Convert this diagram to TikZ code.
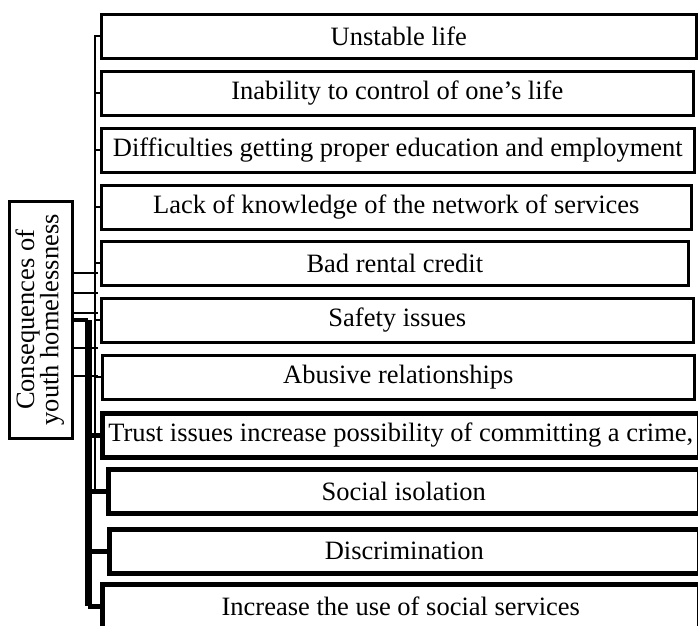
\documentclass[tikz,border=0pt]{standalone}
\usepackage{fontspec}
\setmainfont{Liberation Serif}
\usetikzlibrary{positioning}
\tikzset{
x=1pt, y=-1pt, % one unit is one pixel of the layout, counted downwards
item/.style={draw, line width=2.6pt, inner sep=0pt, anchor=north west, minimum height=44pt, font=\fontsize{26.5}{30}\selectfont}, % the boxes on the right
bolditem/.style={item, line width=4.6pt}, % the heavier boxes at the bottom
link/.style={line width=2.2pt}, % thin connectors
boldlink/.style={line width=4.6pt}, % heavy connectors
boldspine/.style={line width=7pt}, % heavy trunk
}

\begin{document}
\begin{tikzpicture}
\useasboundingbox (0,0) rectangle (698,625);
% root on the left
\node[draw, line width=2.6pt, inner sep=0pt, anchor=north west, minimum width=63pt, minimum height=237pt, font=\fontsize{26.5}{26}\selectfont] (root) at (8,200)
{\rotatebox{90}{\begin{tabular}{@{}c@{}}Consequences of\\[-2pt]youth homelessness\end{tabular}}};
% consequences
\node[item, minimum width=595pt] (b1) at (100,13) {Unstable life};
\node[item, minimum width=592pt] (b2) at (100,70) {Inability to control of one’s life};
\node[item, minimum width=593pt] (b3) at (100,127) {Difficulties getting proper education and employment};
\node[item, minimum width=590pt] (b4) at (100,184) {Lack of knowledge of the network of services};
\node[item, minimum width=587pt] (b5) at (100,240) {Bad rental credit};
\node[item, minimum width=592pt] (b6) at (100,297) {Safety issues};
\node[item, minimum width=592pt] (b7) at (101,354) {Abusive relationships};
\node[bolditem, minimum width=597pt] (b8) at (100,411) {Trust issues increase possibility of committing a crime,};
\node[bolditem, minimum width=591pt] (b9) at (106,467) {Social isolation};
\node[bolditem, minimum width=590pt] (b10) at (107,527) {Discrimination};
\node[bolditem, minimum width=597pt] (b11) at (100,582) {Increase the use of social services};
% trunks
\coordinate (thin) at (95,35);
\coordinate (thick) at (88,320);
\draw[link] (thin) -- (thin |- b9.west);
\foreach \b in {b1,b2,b3,b4,b5,b6,b7}
\draw[link] (thin |- \b.west) -- (\b.west);
\foreach \dy in {46.5,26.5,6.5,-28.5,-56.5}
\draw[link] ([yshift=\dy pt]root.east) -- +(24pt,0);
\draw[boldlink] (root.east |- thick) -- (thick);
\draw[boldspine] (thick) -- (thick |- b11.west);
\foreach \b in {b8,b9,b10,b11}
\draw[boldlink] (thick |- \b.west) -- (\b.west);
\end{tikzpicture}
\end{document}
